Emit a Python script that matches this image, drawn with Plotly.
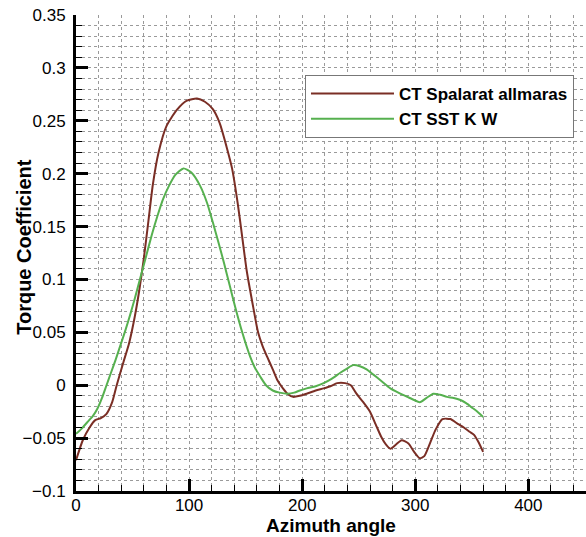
import plotly.graph_objects as go

# azimuth angle (deg) and torque coefficient
sa_angle = [0, 6, 12, 17, 22, 27, 32, 36, 42, 47, 52, 56, 60, 64, 68, 73, 80, 89, 98, 107,
            114, 121, 127, 133, 138, 143, 147, 151, 156, 161, 165, 169, 174, 178, 183, 187,
            192, 198, 204, 212, 219, 225, 231, 238, 243, 248, 254, 260, 265, 270, 274, 278,
            283, 288, 294, 299, 304, 308, 313, 318, 324, 331, 337, 343, 348, 352, 356, 360]
sa_ct = [-0.071, -0.052, -0.040, -0.033, -0.031, -0.027, -0.016, 0.0, 0.022, 0.04, 0.065,
         0.09, 0.12, 0.155, 0.19, 0.22, 0.245, 0.26, 0.269, 0.271,
         0.268, 0.261, 0.248, 0.226, 0.205, 0.172, 0.14, 0.108, 0.078, 0.05, 0.037, 0.027,
         0.015, 0.005, -0.003, -0.008,
         -0.011, -0.010, -0.008, -0.005, -0.003, -0.001, 0.002, 0.002, 0.0, -0.008, -0.016,
         -0.025, -0.037, -0.049, -0.056, -0.060,
         -0.056, -0.052, -0.055, -0.063, -0.069, -0.067, -0.055, -0.042, -0.032, -0.032,
         -0.036, -0.040, -0.044, -0.047, -0.054, -0.063]

sst_angle = [0, 5, 10, 15, 19, 23, 27, 31, 35, 40, 44, 48, 52, 57, 62, 67, 72, 77, 82, 88,
             95, 102, 110, 116, 121, 126, 131, 136, 141, 147, 154, 158, 163, 168, 174, 180,
             187, 193, 198, 204, 212, 219, 226, 234, 240, 245, 251, 257, 263, 270, 278, 285,
             293, 299, 304, 310, 316, 322, 328, 334, 340, 345, 350, 355, 360]
sst_ct = [-0.046, -0.041, -0.035, -0.029, -0.022, -0.012, 0.0, 0.012, 0.024, 0.04, 0.053,
          0.067, 0.082, 0.102, 0.122, 0.142, 0.16, 0.176, 0.188, 0.199,
          0.205, 0.201, 0.188, 0.172, 0.154, 0.135, 0.115, 0.094, 0.073, 0.05, 0.027, 0.017,
          0.008, 0.0, -0.005, -0.007,
          -0.008, -0.007, -0.005, -0.003, -0.001, 0.002, 0.006, 0.012, 0.016, 0.019, 0.018,
          0.015, 0.01, 0.004, -0.003, -0.007,
          -0.011, -0.014, -0.016, -0.012, -0.008, -0.009, -0.011, -0.012, -0.014, -0.017,
          -0.021, -0.025, -0.030]

font = "Arial, Liberation Sans, sans-serif"

fig = go.Figure()
fig.add_trace(go.Scatter(x=sa_angle, y=sa_ct, mode='lines', name='<b>CT Spalarat allmaras</b>',
                         line=dict(color='#7a2e25', width=2, shape='spline', smoothing=0.6)))
fig.add_trace(go.Scatter(x=sst_angle, y=sst_ct, mode='lines', name='<b>CT SST K W</b>',
                         line=dict(color='#56b04f', width=2, shape='spline', smoothing=0.6)))

grid = dict(showgrid=True, gridcolor='#9a9a9a', griddash='dot', gridwidth=1)
fig.update_xaxes(range=[0, 451], tickvals=[0, 100, 200, 300, 400], ticks='inside',
                 ticklen=12, tickwidth=3, tickcolor='black', showline=True, linewidth=3,
                 linecolor='black', zeroline=False, automargin=False, ticklabelstandoff=-3,
                 tickfont=dict(size=17, color='black', family=font),
                 minor=dict(dtick=20, ticks='inside', ticklen=6, tickwidth=1,
                            tickcolor='black', **grid), **grid)
fig.update_yaxes(range=[-0.1, 0.35], dtick=0.05, ticks='inside', ticklen=12, tickwidth=3,
                 tickcolor='black', showline=True, linewidth=3, linecolor='black',
                 zeroline=False, tickformat='~g', automargin=False, ticklabelstandoff=4,
                 tickfont=dict(size=17, color='black', family=font),
                 minor=dict(dtick=0.01, ticks='inside', ticklen=6, tickwidth=1,
                            tickcolor='black', **grid), **grid)

fig.update_layout(
    width=586, height=537,
    margin=dict(l=76, r=0, t=15, b=46),
    plot_bgcolor='white', paper_bgcolor='white',
    font=dict(family=font, color='black'),
    legend=dict(x=0.449, y=0.874, xanchor='left', yanchor='top', bgcolor='white',
                bordercolor='#777777', borderwidth=1, itemwidth=83,
                font=dict(size=17, color='black', family=font),
                tracegroupgap=0),
    annotations=[
        dict(text='<b>Azimuth angle</b>', x=0.5, y=-0.0966, xref='paper', yref='paper',
             xanchor='center', yanchor='bottom', showarrow=False, borderpad=0,
             font=dict(size=19, color='black', family=font)),
        dict(text='<b>Torque Coefficient</b>', x=-0.102, y=0.513, xref='paper', yref='paper',
             xanchor='center', yanchor='middle', showarrow=False, textangle=-90,
             font=dict(size=20, color='black', family=font)),
    ],
)

# the page's default body margin would shift the figure by 8px
fig.write_html("out.html", config={'displayModeBar': False},
               post_script="document.body.style.margin='0px';")
